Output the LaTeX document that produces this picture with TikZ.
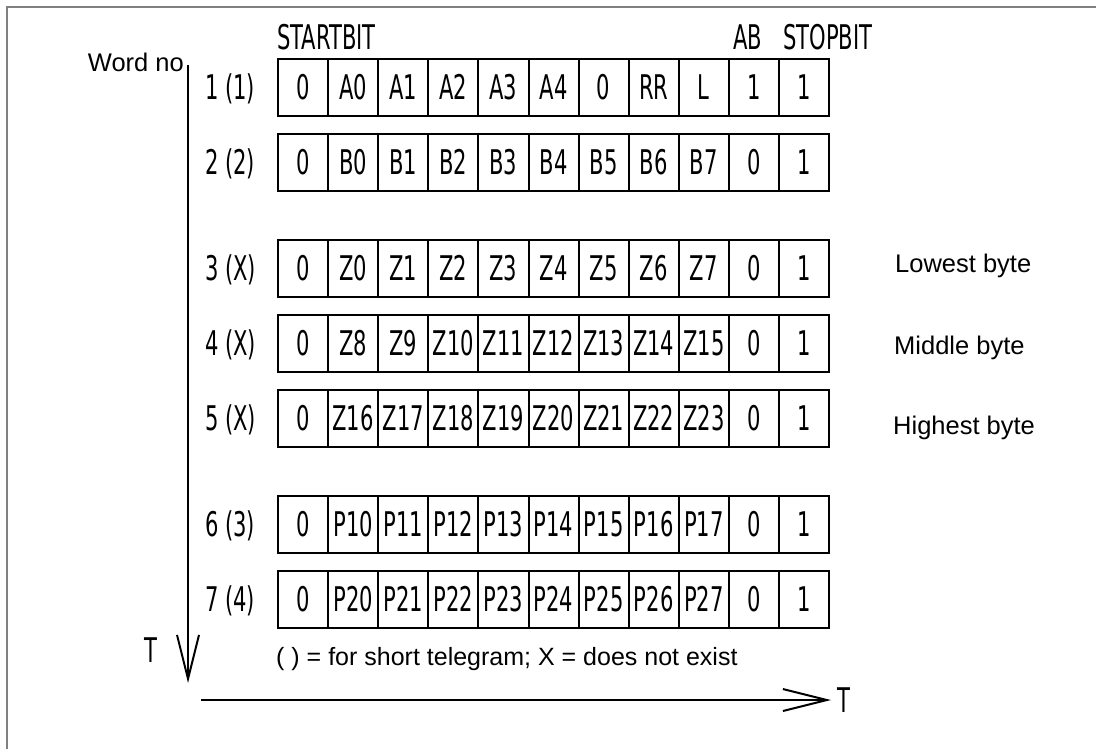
\documentclass[tikz,border=0pt]{standalone}
\usepackage{fontspec}
\setmainfont{Liberation Sans}
\newfontfamily\iso[FakeStretch=0.62]{DejaVu Sans}
\usetikzlibrary{arrows.meta}
\begin{document}
\begin{tikzpicture}[x=1pt,y=-1pt,
  cell/.style={draw,line width=2pt,minimum width=50.1pt,minimum height=57pt,inner sep=0pt,
    text height=24.8pt,text depth=0pt,font=\iso\fontsize{34}{34}\selectfont},
  isotext/.style={inner sep=0pt,text height=24.8pt,text depth=0pt,font=\iso\fontsize{34}{34}\selectfont},
  arialtext/.style={inner sep=0pt,text height=18.3pt,text depth=0pt,font=\fontsize{25.5}{26}\selectfont},
  notetext/.style={inner sep=0pt,text height=18pt,text depth=0pt,font=\fontsize{25}{26}\selectfont},
  axis/.style={line width=2pt,-{Straight Barb[length=44pt,width=22pt]}},
  frame/.style={draw=black!50,line width=1.5pt}
]
\useasboundingbox (0,0) rectangle (1096,749);
% frame (top and left)
\coordinate (fl) at (7,749);
\coordinate (fc) at (7,7);
\coordinate (fr) at (1096,7);
\draw[frame] (fl) -- (fc) -- (fr);

% header labels
\node[isotext,anchor=west] (startbit) at (277,37) {STARTBIT};
\node[isotext,anchor=west] (ab) at (733,37) {AB};
\node[isotext,anchor=west] (stopbit) at (783,37) {STOPBIT};
\node[arialtext,anchor=east] (wordno) at (184,62) {Word no};

% rows
\foreach \r/\y/\lab/\cells in {
  1/59/{1 (1)}/{0,A0,A1,A2,A3,A4,0,RR,L,1,1},
  2/134/{2 (2)}/{0,B0,B1,B2,B3,B4,B5,B6,B7,0,1},
  3/240/{3 (X)}/{0,Z0,Z1,Z2,Z3,Z4,Z5,Z6,Z7,0,1},
  4/315/{4 (X)}/{0,Z8,Z9,Z10,Z11,Z12,Z13,Z14,Z15,0,1},
  5/390/{5 (X)}/{0,Z16,Z17,Z18,Z19,Z20,Z21,Z22,Z23,0,1},
  6/496/{6 (3)}/{0,P10,P11,P12,P13,P14,P15,P16,P17,0,1},
  7/571/{7 (4)}/{0,P20,P21,P22,P23,P24,P25,P26,P27,0,1}}{
  \pgfmathsetmacro{\yc}{\y+28.5}
  \node[isotext,anchor=west] (lab\r) at (205,\yc) {\lab};
  \foreach \t [count=\c] in \cells {
    \pgfmathsetmacro{\xc}{278+50.1*(\c-0.5)}
    \node[cell] (r\r c\c) at (\xc,\yc) {\t};
  }
}

% byte labels
\node[arialtext,anchor=west] (lowest) at (895,263) {Lowest byte};
\node[arialtext,anchor=west] (middle) at (894,345) {Middle byte};
\node[arialtext,anchor=west] (highest) at (893,425) {Highest byte};

% footnote
\node[notetext,anchor=west] (note) at (276,656) {( ) = for short telegram; X = does not exist};

% time axes
\coordinate (vtop) at (188,65);
\coordinate (vtip) at (188,683);
\draw[axis] (vtop) -- (vtip);
\node[isotext] (tv) at (151,650) {T};

\coordinate (hstart) at (201,700);
\coordinate (htip) at (831,700);
\draw[axis] (hstart) -- (htip);
\node[isotext,anchor=west] (th) at (837,700) {T};
\end{tikzpicture}
\end{document}
